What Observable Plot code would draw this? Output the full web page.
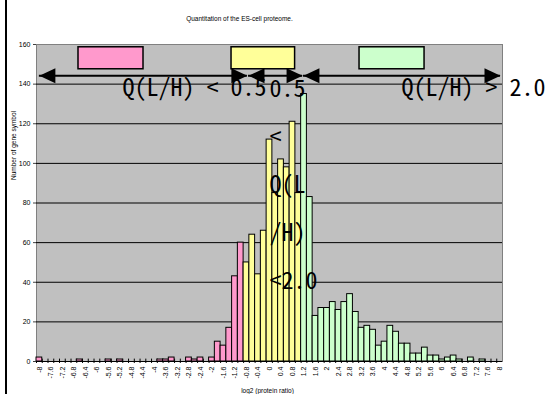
<!DOCTYPE html>
<html>
<head>
<meta charset="utf-8">
<script src="https://cdn.jsdelivr.net/npm/d3@7"></script>
<script src="https://cdn.jsdelivr.net/npm/@observablehq/plot@0.6"></script>
<style>
  body { margin: 0; background: #fff; }
  #wrap { position: relative; width: 557px; height: 394px; overflow: hidden; }
  #edge { position: absolute; left: 5px; top: 0; width: 2px; height: 394px; background: #000; }
  svg text { font-feature-settings: "hwid" 1; }
</style>
</head>
<body>
<div id="wrap"><div id="edge"></div></div>
<script>
// ---- data ----
const bins = [-8,-7.8,-7.6,-7.4,-7.2,-7,-6.8,-6.6,-6.4,-6.2,
  -6,-5.8,-5.6,-5.4,-5.2,-5,-4.8,-4.6,-4.4,-4.2,
  -4,-3.8,-3.6,-3.4,-3.2,-3,-2.8,-2.6,-2.4,-2.2,
  -2,-1.8,-1.6,-1.4,-1.2,-1,-0.8,-0.6,-0.4,-0.2,
  0,0.2,0.4,0.6,0.8,1,1.2,1.4,1.6,1.8,
  2,2.2,2.4,2.6,2.8,3,3.2,3.4,3.6,3.8,
  4,4.2,4.4,4.6,4.8,5,5.2,5.4,5.6,5.8,
  6,6.2,6.4,6.6,6.8,7,7.2,7.4,7.6,7.8,
  8];
const counts = [2,0,0,0,0,0,0,1,0,0,
  0,0,1,0,1,0,0,0,0,0,
  0,1,1,2,0,0,2,1,2,0,
  2,10,8,17,43,60,50,64,44,66,
  112,85,102,98,121,85,135,83,23,27,
  27,30,26,30,34,25,17,18,16,8,
  10,18,15,9,9,4,4,7,3,3,
  1,2,3,1,0,2,0,1,0,0,
  0];
const xTickLabels = ["-8","-7.6","-7.2","-6.8","-6.4","-6","-5.6","-5.2","-4.8","-4.4",
  "-4","-3.6","-3.2","-2.8","-2.4","-2","-1.6","-1.2","-0.8","-0.4",
  "0","0.4","0.8","1.2","1.6","2","2.4","2.8","3.2","3.6",
  "4","4.4","4.8","5.2","5.6","6","6.4","6.8","7.2","7.6","8"];
const yTicks = [0,20,40,60,80,100,120,140,160];
const gridValues = [20,40,60,80,100,120,140];
const classNames = ["low","mid","high"];
const classColors = ["#ff99cc","#ffff99","#ccffcc"];
const lowCut = -1;   // log2(0.5)
const highCut = 1;   // log2(2.0)
const binHalf = 0.1;

const titleText = "Quantitation of the ES-cell proteome.";
const xTitle = "log2 (protein ratio)";
const yTitle = "Number of gene symbol";

// annotations (data units)
const legendBoxes = [
  {x1: -6.64, x2: -4.38, y1: 147.5, y2: 158.6, cls: "low"},
  {x1: -1.32, x2: 0.89, y1: 147.5, y2: 158.6, cls: "mid"},
  {x1: 3.13, x2: 5.39, y1: 147.5, y2: 158.6, cls: "high"}
];
const arrows = [
  {x1: -8.0, x2: -0.77, y: 144.2},
  {x1: -0.73, x2: 1.15, y: 144.2},
  {x1: 1.18, x2: 8.03, y: 144.2}
];
const bigLabels = [
  {x: -5.11, y: 134.0, text: "Q(L/H) < 0.5"},
  {x: 0.0, y: 36.8, text: "0.5\n<\nQ(L\n/H)\n<2.0"},
  {x: 4.59, y: 134.0, text: "Q(L/H) > 2.0"}
];

// ---- build ----
const data = bins.map((b, i) => ({
  bin: b, count: counts[i],
  cls: b <= lowCut ? "low" : b <= highCut ? "mid" : "high"
}));
const heads = arrows.flatMap(a => [
  {x: a.x1, y: a.y, rot: 180},
  {x: a.x2, y: a.y, rot: 0}
]);
const headSymbol = {draw(ctx) { ctx.moveTo(0, 0); ctx.lineTo(-16, -7.5); ctx.lineTo(-16, 7.5); ctx.closePath(); }};
const xTickValues = xTickLabels.map(Number);
const labelOf = new Map(xTickValues.map((v, i) => [v, xTickLabels[i]]));
const smallFont = "Liberation Sans, Arial, sans-serif";
const bigFont = '"Noto Sans Mono CJK JP", "Noto Sans CJK JP", monospace';

const chart = Plot.plot({
  width: 557,
  height: 394,
  marginLeft: 36,
  marginRight: 55,
  marginTop: 44,
  marginBottom: 33,
  style: {fontFamily: smallFont, fontSize: "7px", background: "transparent", overflow: "visible"},
  x: {type: "linear", domain: [bins[0] - binHalf, bins[bins.length - 1] + binHalf], axis: null},
  y: {domain: [0, 160], axis: null},
  color: {domain: classNames, range: classColors},
  marks: [
    Plot.frame({fill: "#c0c0c0", stroke: "#808080"}),
    Plot.ruleY(gridValues, {stroke: "#000", strokeWidth: 1}),
    Plot.ruleX(data, {x: d => d.bin - binHalf, y1: -1, y2: 1.2, stroke: "#000"}),
    Plot.ruleY([0], {stroke: "#000"}),
    Plot.rectY(data.filter(d => d.count > 0), {
      x1: d => d.bin - binHalf, x2: d => d.bin + binHalf, y: "count",
      fill: "cls", stroke: "#000", strokeWidth: 1
    }),
    Plot.axisY({ticks: yTicks, tickSize: 3, tickPadding: 3, fontSize: 7, label: null, stroke: "#404040"}),
    Plot.axisX({ticks: xTickValues, tickFormat: d => labelOf.get(d), tickSize: 0, tickPadding: 5, tickRotate: -90, fontSize: 7, label: null}),
    Plot.text([titleText], {frameAnchor: "top", lineAnchor: "middle", dx: -30, dy: -26, fontSize: 6.5, fill: "#000"}),
    Plot.text([xTitle], {frameAnchor: "bottom", lineAnchor: "middle", dx: -2, dy: 29, fontSize: 6.5, fill: "#000"}),
    Plot.text([yTitle], {frameAnchor: "left", lineAnchor: "middle", rotate: -90, dx: -23, dy: -23, fontSize: 6.5, fill: "#000"}),
    Plot.rect(legendBoxes, {x1: "x1", x2: "x2", y1: "y1", y2: "y2", fill: "cls", stroke: "#000", strokeWidth: 1.5}),
    Plot.ruleY(arrows, {x1: "x1", x2: "x2", y: "y", stroke: "#000", strokeWidth: 2}),
    Plot.dot(heads, {x: "x", y: "y", rotate: "rot", symbol: headSymbol, fill: "#000", stroke: "none"}),
    Plot.text(bigLabels, {x: "x", y: "y", text: "text", textAnchor: "start", lineAnchor: "bottom", lineHeight: 2, fontSize: 24, fontWeight: 500, fontFamily: bigFont, fill: "#000"})
  ]
});
document.getElementById("wrap").insertBefore(chart, document.getElementById("edge"));
</script>
</body>
</html>
